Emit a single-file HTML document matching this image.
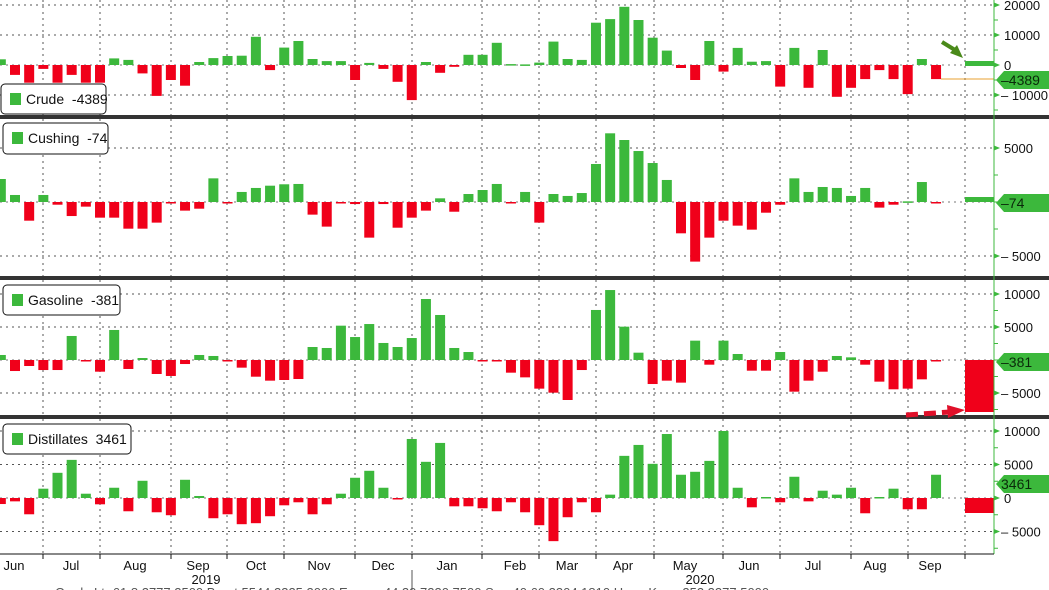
<!DOCTYPE html>
<html><head><meta charset="utf-8"><style>
html,body{margin:0;padding:0;background:#fff;}
svg{display:block;font-family:"Liberation Sans",sans-serif;}
</style></head><body>
<svg id="c" width="1049" height="590" xmlns="http://www.w3.org/2000/svg"></svg>
<script>
var S=document.getElementById('c');var h='';
var G='#3cb83c',R='#f0001a',AX=994;
var panels=[
 {top:0,bot:115,zero:65,ppu:30/10000,ticks:[[20000,'20000'],[10000,'10000'],[0,'0'],[-10000,'-10000']],grid:[20000,10000,-10000],minor:5000,
  d:[1900,-3300,-5900,-1300,-5900,-3300,-5900,-5900,2200,1700,-2800,-10300,-5000,-6900,1000,2300,3000,3100,9400,-1700,5800,8000,2000,1300,1300,-5000,700,-1300,-5600,-11700,1000,-2600,-600,3400,3400,7400,300,200,800,7800,2000,1700,14100,15300,19400,15000,9100,4800,-1000,-5000,8000,-2200,5700,1100,1300,-7200,5700,-7600,5000,-10600,-7600,-4700,-1700,-4700,-9700,2000,-4700],
  fc:[61,66,G],lab:'-4389',ly:80,name:'Crude  -4389',box:[1,84,105,30]},
 {top:119,bot:276,zero:202,ppu:54/5000,ticks:[[5000,'5000'],[-5000,'-5000']],grid:[5000,-5000],minor:2500,
  d:[2130,650,-1730,650,-250,-1300,-430,-1450,-1450,-2470,-2470,-1910,-120,-800,-620,2190,-120,930,1300,1510,1640,1670,-1170,-2280,-60,-190,-3300,-190,-2380,-1450,-800,340,-900,740,1110,1670,-60,930,-1910,740,560,830,3520,6360,5740,4720,3610,2040,-2900,-5520,-3300,-1730,-2190,-2560,-990,-250,2190,930,1390,1300,560,1300,-520,-250,60,1850,-60],
  fc:[197,202,G],lab:'-74',ly:203,name:'Cushing  -74',box:[3,123,105,31]},
 {top:280,bot:415,zero:360,ppu:33/5000,ticks:[[10000,'10000'],[5000,'5000'],[-5000,'-5000']],grid:[10000,5000,-5000],minor:2500,
  d:[760,-1670,-910,-1520,-1520,3640,-100,-1770,4550,-1360,300,-2120,-2420,-610,760,610,-100,-1160,-2530,-3130,-3030,-2880,1970,1820,5200,3480,5450,2580,1970,3330,9240,6820,1820,1210,-100,-100,-1920,-2630,-4340,-4950,-6060,-1520,7580,10600,5050,1110,-3640,-3130,-3430,2930,-710,2930,910,-1620,-1620,1210,-4800,-3130,-1770,610,400,-710,-3280,-4440,-4340,-2930,-200],
  fc:[360,412,R],lab:'-381',ly:362,name:'Gasoline  -381',box:[3,285,117,30]},
 {top:419,bot:554,zero:498,ppu:33.5/5000,ticks:[[10000,'10000'],[5000,'5000'],[0,'0'],[-5000,'-5000']],grid:[10000,5000,-5000],minor:2500,
  d:[-900,-500,-2430,1390,3760,5690,640,-940,1530,-1980,2570,-2130,-2570,2720,300,-3020,-2430,-3910,-3760,-2720,-1090,-640,-2430,-940,640,3020,4060,1530,-200,8810,5400,8220,-1240,-1240,-1530,-1980,-640,-2130,-4060,-6440,-2870,-640,-2130,500,6290,7920,5100,9550,3470,3910,5540,10000,1530,-1390,150,-640,3170,-500,1090,500,1530,-2280,150,1390,-1680,-1680,3470],
  fc:[498,513,R],lab:'3461',ly:484,name:'Distillates  3461',box:[3,424,128,30]}
];
var months=[43,100,171,227,284,355,412,482,539,596,654,723,780,851,908,965];
panels.forEach(function(p,pi){
  months.forEach(function(x){h+='<line x1="'+x+'" y1="'+p.top+'" x2="'+x+'" y2="'+p.bot+'" stroke="#555" stroke-width="1" stroke-dasharray="2,4"/>';});
  p.grid.forEach(function(v){var y=p.zero-v*p.ppu;h+='<line x1="0" y1="'+y+'" x2="'+AX+'" y2="'+y+'" stroke="#555" stroke-width="1" stroke-dasharray="2,4"/>';});
  h+='<line x1="0" y1="'+p.zero+'" x2="'+AX+'" y2="'+p.zero+'" stroke="#777" stroke-width="1" stroke-dasharray="2,4"/>';
  p.d.forEach(function(v,i){var k=i-1;var cx=15+14.17*k;var y=p.zero-v*p.ppu;var t=Math.min(y,p.zero),hh=Math.max(Math.abs(v*p.ppu),1.5);
    if(cx+5<0)return;h+='<rect x="'+(cx-5)+'" y="'+t+'" width="10" height="'+hh+'" fill="'+(v>=0?G:R)+'"/>';});
  h+='<rect x="965" y="'+p.fc[0]+'" width="29" height="'+(p.fc[1]-p.fc[0])+'" fill="'+p.fc[2]+'"/>';
  for(var v=-40000;v<=40000;v+=p.minor){var y=p.zero-v*p.ppu;if(y>p.top+2&&y<p.bot-2)h+='<line x1="'+AX+'" y1="'+y+'" x2="'+(AX+4)+'" y2="'+y+'" stroke="#3cb83c"/>';}
  p.ticks.forEach(function(t){var y=p.zero-t[0]*p.ppu;
    h+='<path d="M'+AX+' '+(y-2.5)+'L'+(AX+6)+' '+y+'L'+AX+' '+(y+2.5)+'Z" fill="#3cb83c"/>';
    var neg=t[1][0]=='-';
    h+='<text x="'+(neg?1001:1004)+'" y="'+(y+5)+'" font-size="13" fill="#111" xml:space="preserve">'+(neg?'\u2013 '+t[1].slice(1):t[1])+'</text>';});
  h+='<path d="M'+(AX+2)+' '+p.ly+'L'+(AX+10)+' '+(p.ly-9)+'L1049 '+(p.ly-9)+'L1049 '+(p.ly+9)+'L'+(AX+10)+' '+(p.ly+9)+'Z" fill="#3cb83c"/>';
  h+='<text x="1001" y="'+(p.ly+5)+'" font-size="14" fill="#0a2a0a">'+p.lab.replace('-','\u2013')+'</text>';
  var b=p.box;h+='<rect x="'+b[0]+'" y="'+b[1]+'" width="'+b[2]+'" height="'+b[3]+'" rx="4" fill="#fff" stroke="#111" stroke-width="1"/>';
  h+='<rect x="'+(b[0]+9)+'" y="'+(b[1]+9)+'" width="11" height="12" fill="#3cb83c"/>';
  h+='<text x="'+(b[0]+25)+'" y="'+(b[1]+20)+'" font-size="14" fill="#111" xml:space="preserve">'+p.name+'</text>';
  if(pi<3)h+='<rect x="0" y="'+(p.bot)+'" width="1049" height="4" fill="#333"/>';
});
h+='<line x1="941" y1="79" x2="'+AX+'" y2="79" stroke="#e8a030" stroke-width="1"/>';
h+='<line x1="942" y1="42" x2="955" y2="50" stroke="#4a8a1a" stroke-width="4"/><path d="M950 53L963 58L957 45Z" fill="#4a8a1a"/>';
h+='<line x1="906" y1="415" x2="950" y2="412" stroke="#e0102a" stroke-width="5" stroke-dasharray="12,6"/><path d="M947 405L965 410L948 418Z" fill="#e0102a"/>';
h+='<line x1="'+AX+'" y1="0" x2="'+AX+'" y2="554" stroke="#3cb83c" stroke-width="1"/>';
h+='<line x1="0" y1="554" x2="'+AX+'" y2="554" stroke="#111" stroke-width="1"/>';
months.forEach(function(x){h+='<line x1="'+x+'" y1="554" x2="'+x+'" y2="559" stroke="#111"/>';});
var ml=[['Jun',14],['Jul',71],['Aug',135],['Sep',198],['Oct',256],['Nov',319],['Dec',383],['Jan',447],['Feb',515],['Mar',567],['Apr',623],['May',685],['Jun',749],['Jul',813],['Aug',875],['Sep',930]];
ml.forEach(function(m){h+='<text x="'+m[1]+'" y="570" font-size="13" fill="#111" text-anchor="middle">'+m[0]+'</text>';});
h+='<text x="206" y="584" font-size="13" fill="#111" text-anchor="middle">2019</text>';
h+='<text x="700" y="584" font-size="13" fill="#111" text-anchor="middle">2020</text>';
h+='<line x1="412" y1="570" x2="412" y2="590" stroke="#555"/>';
h+='<text x="55" y="597" font-size="13" fill="#555">Crude  Ltr  61.8  2777  2500  Brent  5544  2325  2000  Energy  44.20  7230  7500  Smr  40.60  2304  1810  Heng  Kong  252  2277  5000</text>';
S.innerHTML=h;
</script>
</body></html>
